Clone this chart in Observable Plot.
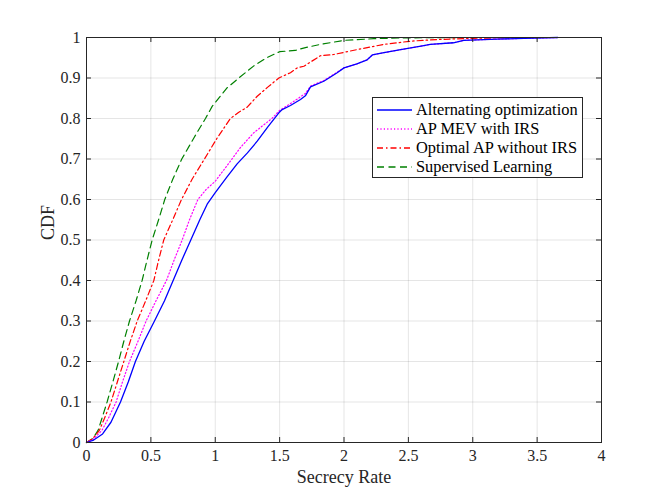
<!DOCTYPE html>
<html><head><meta charset="utf-8">
<script src="https://cdn.jsdelivr.net/npm/d3@7"></script>
<script src="https://cdn.jsdelivr.net/npm/@observablehq/plot@0.6"></script>
<style>
body{margin:0;background:#fff;}
#wrap{position:relative;width:664px;height:497px;font-family:"Liberation Serif","Times New Roman",serif;}
#legend{position:absolute;left:372px;top:97px;width:211px;height:81px;border:1px solid #262626;background:#fff;box-sizing:border-box;}
.row{position:absolute;left:0;height:19px;display:flex;align-items:center;font-size:16.4px;color:#000;white-space:nowrap;}
.row svg{margin-left:4px;margin-right:4px;}
</style></head><body><div id="wrap"></div>
<script>
const xTicks = [0, 0.5, 1, 1.5, 2, 2.5, 3, 3.5, 4];
const yTicks = [0, 0.1, 0.2, 0.3, 0.4, 0.5, 0.6, 0.7, 0.8, 0.9, 1];
const seriesNames = ["Alternating optimization", "AP MEV with IRS", "Optimal AP without IRS", "Supervised Learning"];
const seriesColors = ["#0000ff", "#ff00ff", "#ff0000", "#008000"];
const seriesDashes = [null, "1.2,2.2", "6,3,1.5,3", "7,4.5"];

const altOpt = [[0,0],[0.05,0.005],[0.125,0.021],[0.19,0.05],[0.264,0.1],[0.325,0.15],[0.38,0.2],[0.448,0.25],[0.528,0.3],[0.606,0.35],[0.673,0.4],[0.74,0.45],[0.81,0.5],[0.88,0.55],[0.94,0.59],[1.0,0.617],[1.09,0.655],[1.17,0.688],[1.25,0.715],[1.326,0.744],[1.41,0.78],[1.494,0.814],[1.52,0.822],[1.584,0.832],[1.662,0.847],[1.70,0.856],[1.74,0.878],[1.843,0.892],[1.947,0.913],[2.0,0.925],[2.1,0.935],[2.18,0.945],[2.22,0.957],[2.3,0.962],[2.44,0.97],[2.62,0.98],[2.67,0.983],[2.85,0.987],[2.93,0.993],[3.19,0.996],[3.4,0.998],[3.66,1.0]];
const apMev = [[0,0],[0.05,0.007],[0.12,0.03],[0.17,0.06],[0.23,0.1],[0.28,0.15],[0.334,0.2],[0.40,0.25],[0.463,0.3],[0.54,0.35],[0.621,0.4],[0.68,0.45],[0.743,0.5],[0.80,0.55],[0.865,0.6],[0.93,0.625],[1.0,0.645],[1.13,0.7],[1.2,0.73],[1.3,0.765],[1.44,0.8],[1.5,0.82],[1.6,0.84],[1.7,0.862],[1.74,0.88],[1.85,0.895],[1.95,0.915],[2.0,0.925],[2.1,0.935],[2.18,0.945],[2.22,0.957],[2.3,0.962],[2.44,0.97],[2.62,0.98],[2.67,0.983],[2.85,0.987],[2.93,0.993],[3.19,0.996],[3.4,0.998],[3.66,1.0]];
const optNoIrs = [[0,0],[0.05,0.01],[0.1,0.03],[0.14,0.06],[0.19,0.1],[0.24,0.15],[0.29,0.2],[0.34,0.25],[0.394,0.3],[0.46,0.35],[0.523,0.4],[0.56,0.45],[0.60,0.5],[0.67,0.55],[0.738,0.6],[0.82,0.65],[0.916,0.7],[1.015,0.752],[1.118,0.8],[1.18,0.815],[1.248,0.828],[1.326,0.855],[1.41,0.878],[1.494,0.9],[1.584,0.913],[1.636,0.925],[1.688,0.929],[1.817,0.955],[1.92,0.958],[2.1,0.97],[2.31,0.983],[2.52,0.991],[2.72,0.995],[3.0,0.998],[3.4,1.0]];
const supervised = [[0,0],[0.05,0.01],[0.09,0.03],[0.12,0.06],[0.16,0.1],[0.205,0.15],[0.249,0.2],[0.29,0.25],[0.334,0.3],[0.385,0.35],[0.432,0.4],[0.47,0.45],[0.51,0.5],[0.56,0.55],[0.608,0.6],[0.67,0.65],[0.74,0.7],[0.834,0.752],[0.924,0.8],[0.976,0.83],[1.04,0.855],[1.093,0.876],[1.183,0.9],[1.3,0.93],[1.40,0.95],[1.5,0.965],[1.62,0.968],[1.7,0.975],[1.817,0.983],[2.0,0.993],[2.23,0.997],[2.45,0.999],[2.9,1.0]];
const seriesData = [altOpt, apMev, optNoIrs, supervised];

const font = '"Liberation Serif","Times New Roman",serif';
const W = 664, H = 497, mL = 86, mR = 63, mT = 37, mB = 55;
const tickLen = 5;
const xTickSpan = tickLen / (H - mT - mB);          // in y units
const yTickSpan = 4 * tickLen / (W - mL - mR);      // in x units

const lineMarks = [3, 2, 1, 0].map(i => Plot.line(seriesData[i], {
  x: d => d[0], y: d => d[1],
  stroke: seriesColors[i], strokeWidth: i === 0 ? 1.3 : 1.2,
  strokeDasharray: seriesDashes[i] || undefined,
  strokeLinejoin: "round"
}));

const chart = Plot.plot({
  width: W, height: H,
  marginLeft: mL, marginRight: mR, marginTop: mT, marginBottom: mB,
  style: {fontFamily: font, fontSize: "16px", color: "#262626", background: "#fff"},
  x: {domain: [0, 4]},
  y: {domain: [0, 1]},
  marks: [
    Plot.gridX(xTicks, {stroke: "#000", strokeOpacity: 0.1, strokeWidth: 1}),
    Plot.gridY(yTicks, {stroke: "#000", strokeOpacity: 0.1, strokeWidth: 1}),
    ...lineMarks,
    Plot.ruleX(xTicks, {x: d => d, y1: 0, y2: xTickSpan, stroke: "#262626"}),
    Plot.ruleX(xTicks, {x: d => d, y1: 1 - xTickSpan, y2: 1, stroke: "#262626"}),
    Plot.ruleY(yTicks, {y: d => d, x1: 0, x2: yTickSpan, stroke: "#262626"}),
    Plot.ruleY(yTicks, {y: d => d, x1: 4 - yTickSpan, x2: 4, stroke: "#262626"}),
    Plot.frame({stroke: "#262626"}),
    Plot.axisX(xTicks, {tickSize: 0, tickPadding: 7, tickFormat: d3.format("~g"), label: null, fill: "#262626", fontSize: 16}),
    Plot.axisY(yTicks, {tickSize: 0, tickPadding: 6, tickFormat: d3.format("~g"), label: null, fill: "#262626", fontSize: 16}),
    Plot.text(["Secrecy Rate"], {frameAnchor: "bottom", dy: 40, fontSize: 18, fill: "#262626", text: d => d}),
    Plot.text(["CDF"], {frameAnchor: "left", dx: -38, rotate: -90, fontSize: 18, fill: "#262626", text: d => d})
  ]
});

const wrap = document.getElementById("wrap");
wrap.appendChild(chart);

const legend = document.createElement("div");
legend.id = "legend";
seriesNames.forEach((name, i) => {
  const row = document.createElement("div");
  row.className = "row";
  row.style.top = (2.5 + i * 19.1) + "px";
  const dash = seriesDashes[i] ? `stroke-dasharray="${seriesDashes[i]}"` : "";
  row.innerHTML = `<svg width="35" height="10"><line x1="0" y1="5" x2="35" y2="5" stroke="${seriesColors[i]}" stroke-width="1.3" ${dash}/></svg><span>${name}</span>`;
  legend.appendChild(row);
});
wrap.appendChild(legend);
</script></body></html>
